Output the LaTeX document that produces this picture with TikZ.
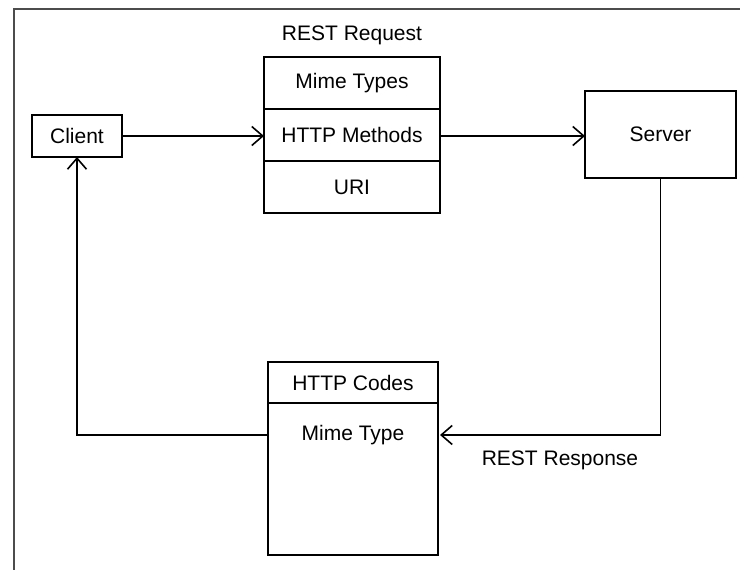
\documentclass[tikz,border=0pt]{standalone}
\usepackage{fontspec}
\setmainfont{Liberation Sans}
\usetikzlibrary{positioning,arrows.meta}

\tikzset{
	cell/.style={draw, line width=1.2pt, outer sep=0pt, inner sep=0pt, font=\fontsize{21}{25}\selectfont},
	txt/.style={inner sep=0pt, font=\fontsize{21}{25}\selectfont},
	flow/.style={line width=1.2pt, -{Straight Barb[length=11pt,width=19pt,line width=1.6pt]}},
}

\begin{document}
\begin{tikzpicture}[x=1pt,y=-1pt]
	\useasboundingbox (0,0) rectangle (740,570);
	% outer frame
	\draw [line width=1.6pt, black!70] (14,572) |- (742,9);
	
	% request stack
	\node [cell, minimum width=176pt, minimum height=52pt] (reqtypes) at (352,83) {Mime Types};
	\node [cell, minimum width=176pt, minimum height=52pt, below=0pt of reqtypes] (reqmeth) {HTTP Methods};
	\node [cell, minimum width=176pt, minimum height=52pt, below=0pt of reqmeth] (requri) {URI};
	\node [txt, above=12pt of reqtypes] (reqlabel) {REST Request};
	
	\node [cell, minimum width=90pt, minimum height=42pt] (client) at (77,136) {Client};
	\node [cell, minimum width=151pt, minimum height=87pt] (server) at (660.5,134.5) {Server};
	
	% response stack
	\node [cell, minimum width=170pt, minimum height=41pt] (rescodes) at (353,382.5) {HTTP Codes};
	\node [cell, minimum width=170pt, minimum height=152pt, below=0pt of rescodes] (resbody) {};
	\node [txt, below=22pt of rescodes.south] (resmime) {Mime Type};
	\node [txt] (reslabel) at (560,460) {REST Response};
	
	% connectors
	\draw [flow] (client) -- (reqmeth.west |- client);
	\draw [flow] (reqmeth.east |- client) -- (server.west |- client);
	\draw [flow] (server.south) |- ([xshift=2pt]resbody.east |- resmime);
	\draw [flow] (resbody.west |- resmime) -| (client.south);
\end{tikzpicture}
\end{document}
